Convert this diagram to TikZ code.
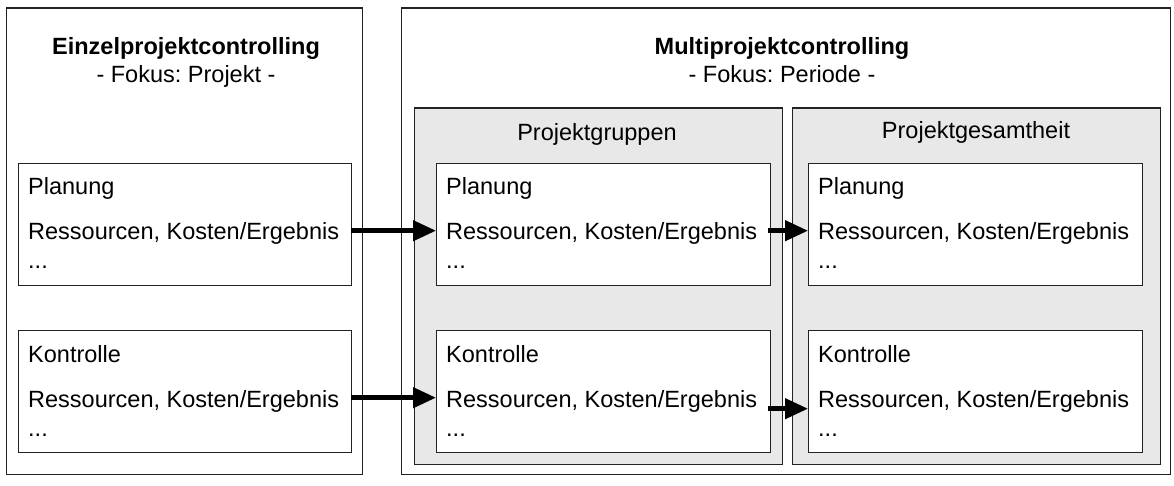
\documentclass[tikz,border=0pt]{standalone}
\usepackage{fontspec}
\setmainfont{Liberation Sans}
\frenchspacing
\usetikzlibrary{arrows.meta,calc}
\definecolor{linec}{HTML}{222222}
\definecolor{grayfill}{HTML}{E8E8E8}
\tikzset{
  outerbox/.style={draw=linec,line width=1.4pt,fill=white,rectangle,inner sep=0pt,anchor=north west},
  graybox/.style={draw=linec,line width=1.4pt,fill=grayfill,rectangle,inner sep=0pt,anchor=north west},
  whitebox/.style={draw=linec,line width=1.4pt,fill=white,rectangle,inner sep=0pt,anchor=north west,minimum width=334pt,minimum height=122pt},
  lbl/.style={inner sep=0pt,anchor=base west,font=\fontsize{23.5}{28}\selectfont},
  ctr/.style={inner sep=0pt,anchor=base,font=\fontsize{23.5}{28}\selectfont},
  ttl/.style={inner sep=0pt,anchor=base,font=\fontsize{23.5}{28}\selectfont\bfseries},
  arr/.style={line width=4.5pt,-{Triangle[length=23pt,width=20pt]}}
}
\begin{document}
\begin{tikzpicture}[x=1pt,y=-1pt]
\useasboundingbox (0,0) rectangle (1174,486);
% outer boxes
\node[outerbox,minimum width=356pt,minimum height=466pt] (L) at (6,7.5) {};
\node[outerbox,minimum width=769pt,minimum height=466pt] (R) at (401,7.5) {};
% gray boxes
\node[graybox,minimum width=367.5pt,minimum height=356pt] (G1) at (414,107.5) {};
\node[graybox,minimum width=367.5pt,minimum height=356pt] (G2) at (792,107.5) {};
% titles
\node[ttl] (t1) at (186,55) {Einzelprojektcontrolling};
\node[ctr] (f1) at (186,83) {- Fokus: Projekt -};
\node[ttl] (t2) at (782,55) {Multiprojektcontrolling};
\node[ctr] (f2) at (782,83) {- Fokus: Periode -};
\node[ctr] (g1t) at (597,141) {Projektgruppen};
\node[ctr] (g2t) at (976,139) {Projektgesamtheit};
% inner boxes
\node[whitebox,minimum width=333pt] (LP) at (18,163) {};
\node[whitebox,minimum width=333pt] (LK) at (18,330) {};
\node[whitebox] (MP) at (436,163) {};
\node[whitebox] (MK) at (436,330) {};
\node[whitebox] (RP) at (808,163) {};
\node[whitebox] (RK) at (808,330) {};
% texts
\foreach \b/\x in {LP/28,MP/446,RP/818}{
  \node[lbl] (\b a) at (\x,195) {Planung};
  \node[lbl] (\b b) at (\x,240) {Ressourcen, Kosten/Ergebnis};
  \node[lbl] (\b c) at (\x,269) {...};
}
\foreach \b/\x in {LK/28,MK/446,RK/818}{
  \node[lbl] (\b a) at (\x,362) {Kontrolle};
  \node[lbl] (\b b) at (\x,407) {Ressourcen, Kosten/Ergebnis};
  \node[lbl] (\b c) at (\x,436) {...};
}
% arrows
\draw[arr] ($(LP.east)+(-1,6)$) -- ($(MP.west)+(0,6)$);
\draw[arr] ($(LK.east)+(-1,6)$) -- ($(MK.west)+(0,6)$);
\draw[arr] ($(MP.east)+(-3,6)$) -- ($(RP.west)+(0,6)$);
\draw[arr] ($(MK.east)+(-3,17)$) -- ($(RK.west)+(0,17)$);
\end{tikzpicture}
\end{document}
